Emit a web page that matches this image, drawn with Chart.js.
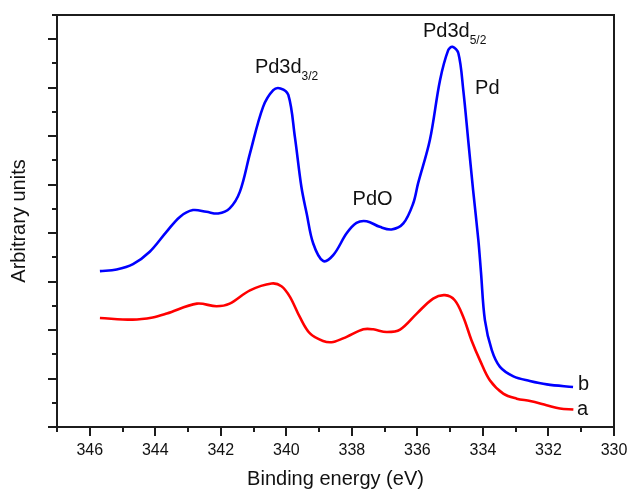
<!DOCTYPE html>
<html>
<head>
<meta charset="utf-8">
<script src="https://cdn.jsdelivr.net/npm/chart.js@4.4.1/dist/chart.umd.min.js"></script>
<style>
  html, body { margin: 0; padding: 0; background: #ffffff; }
  #wrap { width: 630px; height: 491px; }
</style>
</head>
<body>
<div id="wrap"><canvas id="xps" width="630" height="491"></canvas></div>
<script>
// Pd 3d spectra: curve b (blue) and curve a (red), binding energy in eV
const energyB = [345.69, 345.18, 344.68, 344.17, 343.66, 343.25, 342.85, 342.44, 342.08, 341.73,
  341.42, 341.11, 340.71, 340.40, 340.18, 339.94, 339.74, 339.54, 339.38, 339.18,
  338.88, 338.57, 338.16, 337.86, 337.55, 337.15, 336.79, 336.43, 336.13, 335.98,
  335.62, 335.31, 335.06, 334.93, 334.75, 334.60, 334.45, 334.30, 334.14, 334.06,
  333.94, 333.73, 333.48, 333.07, 332.57, 332.05, 331.25];
const intensityB = [6.43, 6.50, 6.72, 7.23, 8.05, 8.67, 8.95, 8.88, 8.81, 9.02,
  9.70, 11.29, 13.21, 13.90, 13.97, 13.70, 11.97, 9.90, 8.81, 7.57,
  6.85, 7.09, 7.99, 8.42, 8.49, 8.26, 8.15, 8.40, 9.22, 10.05,
  11.84, 14.31, 15.55, 15.69, 15.42, 13.90, 11.84, 9.77, 7.71, 6.39,
  4.41, 3.17, 2.48, 2.09, 1.90, 1.76, 1.65];

const energyA = [345.69, 344.69, 344.08, 343.65, 342.73, 342.13, 341.73, 341.11, 340.45, 340.15,
  339.89, 339.59, 339.28, 338.88, 338.57, 338.16, 337.65, 337.35, 336.94, 336.53,
  336.02, 335.52, 335.16, 334.86, 334.60, 334.35, 334.09, 333.79, 333.38, 332.97,
  332.56, 332.06, 331.65, 331.24];
const intensityA = [4.50, 4.43, 4.52, 4.68, 5.09, 4.98, 5.09, 5.64, 5.92, 5.81,
  5.37, 4.54, 3.86, 3.55, 3.51, 3.72, 4.03, 4.03, 3.92, 4.02,
  4.68, 5.30, 5.44, 5.23, 4.54, 3.58, 2.75, 1.93, 1.38, 1.17,
  1.07, 0.90, 0.76, 0.72];

// labelled energies on the x axis
const xTickLabels = [346, 344, 342, 340, 338, 336, 334, 332, 330];

// peak names and curve names, anchored in data coordinates (left edge, baseline)
const peakLabels = [
  { text: 'Pd3d', sub: '3/2', x: 340.96, y: 14.59 },
  { text: 'PdO', sub: '', x: 337.98, y: 9.15 },
  { text: 'Pd3d', sub: '5/2', x: 335.83, y: 16.08 },
  { text: 'Pd', sub: '', x: 334.24, y: 13.73 },
  { text: 'b', sub: '', x: 331.10, y: 1.52 },
  { text: 'a', sub: '', x: 331.13, y: 0.48 }
];

const toPoints = (xs, ys) => xs.map((v, i) => ({ x: v, y: ys[i] }));

const FONT = '"Liberation Sans", Arial, Helvetica, sans-serif';
const INK = '#111111';

// box around the plot with major/minor tick marks on the bottom and left edges
const frameAndTicks = {
  id: 'frameAndTicks',
  afterDatasetsDraw(chart) {
    const { ctx, chartArea: a, scales: { x, y } } = chart;
    ctx.save();
    ctx.strokeStyle = '#1c1c1c';
    ctx.lineWidth = 2;
    ctx.beginPath();
    for (let v = Math.ceil(x.min); v <= x.max; v++) {
      const px = Math.round(x.getPixelForValue(v));
      const len = v % 2 === 0 ? 9 : 5;
      ctx.moveTo(px, a.bottom);
      ctx.lineTo(px, a.bottom + len);
    }
    for (let v = Math.ceil(y.min); v <= y.max; v++) {
      const py = Math.round(y.getPixelForValue(v));
      const len = v % 2 === 0 ? 9 : 5;
      ctx.moveTo(a.left, py);
      ctx.lineTo(a.left - len, py);
    }
    ctx.stroke();
    ctx.strokeRect(a.left, a.top, a.right - a.left, a.bottom - a.top);
    ctx.restore();
  }
};

// peak annotations with subscripts
const peakText = {
  id: 'peakText',
  afterDatasetsDraw(chart) {
    const { ctx, scales: { x, y } } = chart;
    ctx.save();
    ctx.fillStyle = INK;
    ctx.textAlign = 'left';
    ctx.textBaseline = 'alphabetic';
    peakLabels.forEach(l => {
      const px = x.getPixelForValue(l.x);
      const py = y.getPixelForValue(l.y);
      ctx.font = '20px ' + FONT;
      ctx.fillText(l.text, px, py);
      if (l.sub) {
        const w = ctx.measureText(l.text).width;
        ctx.font = '12px ' + FONT;
        ctx.fillText(l.sub, px + w, py + 7);
      }
    });
    ctx.restore();
  }
};

new Chart(document.getElementById('xps'), {
  type: 'line',
  data: {
    datasets: [
      {
        label: 'b',
        data: toPoints(energyB, intensityB),
        borderColor: '#0000ff',
        borderWidth: 2.6,
        pointRadius: 0,
        fill: false,
        tension: 0.35
      },
      {
        label: 'a',
        data: toPoints(energyA, intensityA),
        borderColor: '#ff0000',
        borderWidth: 2.6,
        pointRadius: 0,
        fill: false,
        tension: 0.35
      }
    ]
  },
  options: {
    responsive: false,
    animation: false,
    devicePixelRatio: 1,
    layout: { padding: { left: 0, top: 15, right: 16, bottom: 0 } },
    plugins: {
      legend: { display: false },
      tooltip: { enabled: false }
    },
    scales: {
      x: {
        type: 'linear',
        min: 330,
        max: 347,
        reverse: true,
        grid: { display: false },
        border: { display: false },
        ticks: {
          stepSize: 1,
          autoSkip: false,
          maxRotation: 0,
          padding: 6,
          color: INK,
          font: { family: FONT, size: 16 },
          callback: v => (xTickLabels.includes(v) ? String(v) : '')
        },
        title: {
          display: true,
          text: 'Binding energy (eV)',
          color: INK,
          font: { family: FONT, size: 20 },
          padding: { top: 0, bottom: 0 }
        },
        afterFit(scale) {
          scale.height = 64;
          scale.paddingLeft = 0;
          scale.paddingRight = 0;
        }
      },
      y: {
        type: 'linear',
        min: 0,
        max: 17,
        grid: { display: false },
        border: { display: false },
        ticks: { display: false, stepSize: 1 },
        title: {
          display: true,
          text: 'Arbitrary units',
          color: INK,
          font: { family: FONT, size: 20 },
          padding: { top: 7, bottom: 0 }
        },
        afterFit(scale) {
          scale.width = 57;
          scale.paddingTop = 0;
          scale.paddingBottom = 0;
        }
      }
    }
  },
  plugins: [frameAndTicks, peakText]
});
</script>
</body>
</html>
